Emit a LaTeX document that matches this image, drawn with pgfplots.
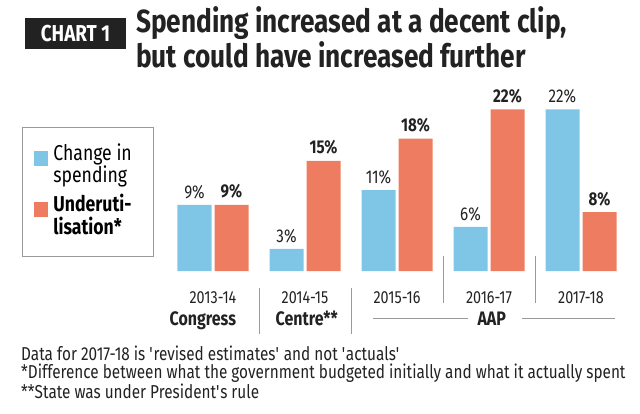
\documentclass[border=0pt]{standalone}
\usepackage{pgfplots}
\pgfplotsset{compat=1.18}
\usepackage{fontspec}
\setmainfont{Fira Sans}[FakeStretch=0.82]
\definecolor{cblue}{HTML}{7FC6E6}
\definecolor{corange}{HTML}{EE7C60}
\definecolor{sepgray}{HTML}{9A9A9A}
\definecolor{ink}{HTML}{222222}
\newcommand{\lcell}[1]{\begin{tabular}[t]{@{}p{88pt}@{}}#1\end{tabular}}
\newcommand{\sq}{\textquotesingle}
\begin{document}
\begin{tikzpicture}
\path[use as bounding box] (0pt,0pt) rectangle (640pt,-413pt);
% title
\fill[ink] (25pt,-18pt) rectangle (126pt,-49pt);
\node[anchor=center, text=white, font=\fontsize{23}{25}\selectfont\bfseries, inner sep=0pt] at (75.5pt,-33.5pt) {CHART 1};
\node[anchor=base west, align=left, inner sep=0pt, font=\fontsize{32}{25}\selectfont\bfseries, text=ink] at (136pt,-67pt) {Spending increased at a decent clip,\\but could have increased further};
\begin{axis}[
  at={(167pt,-271pt)}, anchor=south west,
  scale only axis, width=460pt, height=183.75pt,
  xmin=-0.5, xmax=4.5, ymin=0, ymax=25,
  ybar=3pt, bar width=34pt,
  axis line style={draw=none}, major tick length=0pt,
  /pgf/number format/assume math mode=true,
  ytick=\empty, xtick=data,
  xticklabels={\textnormal{2013-14},\textnormal{2014-15},\textnormal{2015-16},\textnormal{2016-17},\textnormal{2017-18}},
  xticklabel style={anchor=base, yshift=-32pt, font=\fontsize{17.5}{19}\selectfont, text=ink},
  clip=false,
  nodes near coords={\pgfmathprintnumber{\pgfplotspointmeta}\%},
  nodes near coords style={anchor=south, inner sep=0pt, yshift=6pt, font=\fontsize{18.5}{20}\selectfont, text=ink},
  legend style={at={(-0.3152,0.7837)}, anchor=north west, draw=sepgray, line width=0.8pt,
    font=\fontsize{21.5}{18.5}\selectfont, inner xsep=12pt, inner ysep=16pt, row sep=6pt, column sep=5pt,
    nodes={inner sep=0pt, text depth=}, cells={anchor=west}},
  mylegend/.style={legend image code/.code={\fill[##1,draw=none] (0pt,0pt) rectangle (14pt,15pt);}},
]
\addplot[fill=cblue, draw=none, mylegend] coordinates {(0,9) (1,3) (2,11) (3,6) (4,22)};
\addplot[fill=corange, draw=none, mylegend, nodes near coords style={font=\fontsize{18.5}{20}\selectfont\bfseries}] coordinates {(0,9) (1,15) (2,18) (3,22) (4,8)};
\legend{{\lcell{Change in\\spending}},{\lcell{\textbf{Underuti-}\\\textbf{lisation*}}}}
% separators
\draw[sepgray, line width=0.8pt] (axis cs:0.5,0) ++(0pt,-17pt) -- ++(0pt,-46pt);
\draw[sepgray, line width=0.8pt] (axis cs:1.5,0) ++(0pt,-17pt) -- ++(0pt,-46pt);
\draw[sepgray, line width=0.8pt] (axis cs:2.5,0) ++(0pt,15pt) -- ++(0pt,-47pt);
\draw[sepgray, line width=0.8pt] (axis cs:3.5,0) ++(0pt,15pt) -- ++(0pt,-47pt);
\draw[sepgray, line width=0.8pt] ([yshift=-47pt]axis cs:1.74,0) -- ([yshift=-47pt]axis cs:2.77,0);
\draw[sepgray, line width=0.8pt] ([yshift=-47pt]axis cs:3.36,0) -- ([yshift=-47pt]axis cs:4.37,0);
\node[anchor=base, font=\fontsize{19.5}{21}\selectfont\bfseries, text=ink] at ([yshift=-54pt]axis cs:-0.11,0) {Congress};
\node[anchor=base, font=\fontsize{19.5}{21}\selectfont\bfseries, text=ink] at ([yshift=-54pt]axis cs:1.02,0) {Centre**};
\node[anchor=base, font=\fontsize{19.5}{21}\selectfont\bfseries, text=ink] at ([yshift=-54pt]axis cs:3.03,0) {AAP};
\end{axis}
\node[anchor=base west, align=left, inner sep=0pt, font=\fontsize{18.7}{17.5}\selectfont, text=ink] at (21pt,-398pt) {Data for 2017-18 is \sq revised estimates\sq{} and not \sq actuals\sq\\*Difference between what the government budgeted initially and what it actually spent\\**State was under President\sq s rule};
\end{tikzpicture}
\end{document}
